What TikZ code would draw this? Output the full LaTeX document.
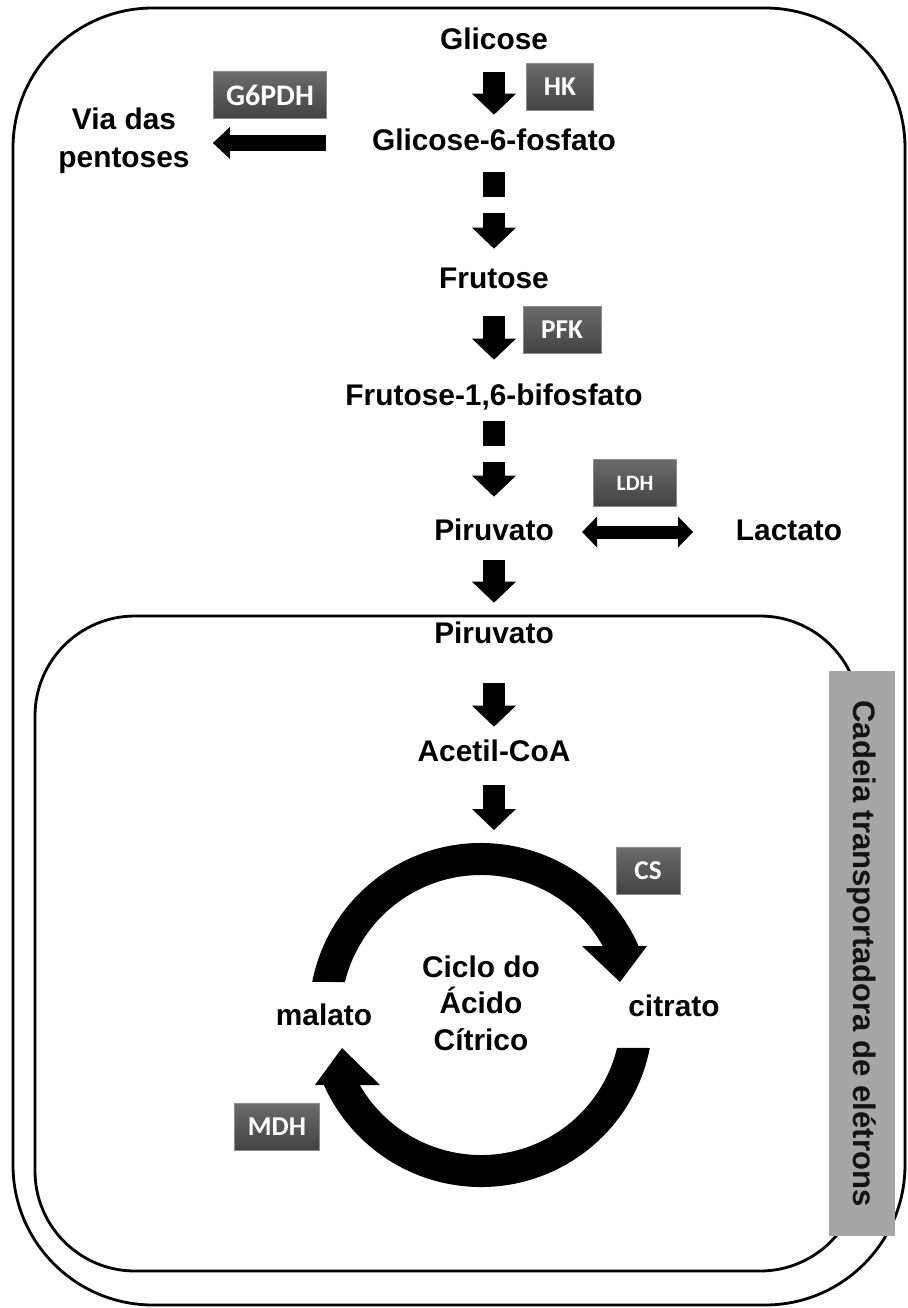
\documentclass[tikz,border=0pt]{standalone}
\usepackage{fontspec}
\setmainfont{Liberation Sans}
\newfontfamily\enzfont{Carlito}
\usetikzlibrary{arrows.meta}

\begin{document}
\begin{tikzpicture}[x=0.02cm, y=-0.02cm, every node/.style={font=\bfseries\fontsize{17}{20}\selectfont}]
    \tikzstyle{metab}=[inner sep=0pt, text height=0.44cm, text depth=0.12cm]
    \tikzstyle{metabml}=[inner sep=0pt, align=center]
    \tikzstyle{enzyme}=[font=\enzfont\bfseries\fontsize{15.5}{17}\selectfont, text=white, top color=black!58, bottom color=black!74, draw=black!45, minimum height=0.93cm, inner sep=0pt]
    \tikzstyle{flow}=[line width=0.44cm, -{Triangle[width=0.88cm, length=0.42cm, line width=0pt]}]
    \tikzstyle{flowleft}=[line width=0.32cm, -{Triangle[width=0.64cm, length=0.34cm, line width=0pt]}]
    \tikzstyle{flowboth}=[line width=0.26cm, {Triangle[width=0.62cm, length=0.3cm, line width=0pt]}-{Triangle[width=0.62cm, length=0.3cm, line width=0pt]}]
    \tikzstyle{broken}=[dash pattern=on 0.5cm off 0.32cm on 2cm]

    \useasboundingbox (0,0) rectangle (908,1308);
    \fill[white] (0,0) rectangle (908,1308);
    \draw[line width=1.6pt, rounded corners=2.8cm] (13,8) rectangle (905,1305);
    \draw[line width=1.6pt, rounded corners=2cm] (35,616) rectangle (860,1271);
    \node[fill=black!35, rotate=-90, minimum width=11.3cm, minimum height=1.32cm, inner sep=0pt, font=\bfseries\fontsize{17.7}{20}\selectfont, text=black!92] (etc) at (862,953.5) {Cadeia transportadora de elétrons};

    \node[metab] (glc) at (494,42) {Glicose};
    \node[metab] (gsix) at (494,143) {Glicose-6-fosfato};
    \node[metabml, font=\bfseries\fontsize{17}{21.6}\selectfont] (via) at (124,141) {Via das\\pentoses};
    \node[metab] (fru) at (494,280) {Frutose};
    \node[metab] (fbp) at (494,397) {Frutose-1,6-bifosfato};
    \node[metab] (pyr) at (494,532) {Piruvato};
    \node[metab] (lac) at (789,532) {Lactato};
    \node[metab] (pyrM) at (494,635) {Piruvato};
    \node[metab] (aco) at (494,753) {Acetil-CoA};
    \coordinate (ringtop) at (494,847);
    \node[metabml, font=\bfseries\fontsize{17}{20.8}\selectfont] (krebs) at (481,1003) {Ciclo do\\Ácido\\Cítrico};
    \node[metab] (mal) at (324,1017) {malato};
    \node[metab] (cit) at (674,1008) {citrato};

    \node[enzyme, minimum width=2.26cm, font=\enzfont\bfseries\fontsize{17}{19}\selectfont] (gpd) at (270,95) {G6PDH};
    \node[enzyme, minimum width=1.34cm] (hk) at (560,87) {HK};
    \node[enzyme, minimum width=1.56cm] (pfk) at (562,330) {PFK};
    \node[enzyme, minimum width=1.66cm, font=\enzfont\bfseries\fontsize{12.5}{14}\selectfont] (ldh) at (635,483) {LDH};
    \node[enzyme, minimum width=1.28cm] (cs) at (648,871) {CS};
    \node[enzyme, minimum width=1.7cm] (mdh) at (277,1127) {MDH};

    \draw[flow, shorten <=0.32cm, shorten >=0.28cm] (glc) -- (gsix);
    \draw[flow, broken, shorten <=0.3cm, shorten >=0.34cm] (gsix) -- (fru);
    \draw[flow, shorten <=0.44cm, shorten >=0.46cm] (fru) -- (fbp);
    \draw[flow, broken, shorten <=0.2cm, shorten >=0.42cm] (fbp) -- (pyr);
    \draw[flow, shorten <=0.28cm, shorten >=0.36cm] (pyr) -- (pyrM);
    \draw[flow, shorten <=0.68cm, shorten >=0.24cm] (pyrM) -- (aco);
    \draw[flow, shorten <=0.36cm, shorten >=0.34cm] (aco) -- (ringtop);
    \draw[flowleft, shorten <=0.91cm, shorten >=0.46cm] (gsix.west) -- (via.east |- gsix.west);
    \draw[flowboth, shorten <=0.56cm, shorten >=0.85cm] (pyr) -- (lac);

    \begin{scope}[shift={(481,1015)}]
        \fill (-168.9:172) arc[start angle=-168.9, end angle=-23.65, radius=172] -- (166,-69) -- (139,-33) -- (101,-69) -- (-29.5:140) arc[start angle=-29.5, end angle=-166.4, radius=140] -- cycle;
        \fill (11.06:172) arc[start angle=11.06, end angle=156, radius=172] -- (-166,70) -- (-139,33) -- (-101,70) -- (150:140) arc[start angle=150, end angle=13.6, radius=140] -- cycle;
    \end{scope}
\end{tikzpicture}
\end{document}
